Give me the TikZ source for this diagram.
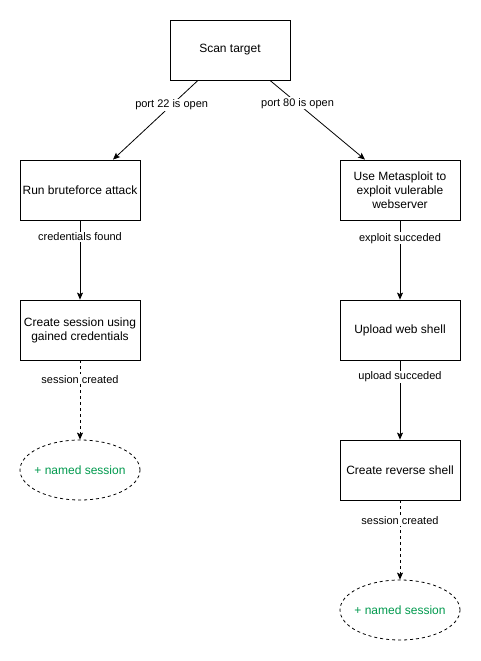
\documentclass[tikz,border=0pt]{standalone}
\usepackage{fontspec}
\setmainfont{Liberation Sans}
\usetikzlibrary{arrows.meta,calc,shapes.geometric}
\definecolor{sessgreen}{RGB}{0,153,77}
\begin{document}
\begin{tikzpicture}[x=1pt,y=-1pt,
  box/.style={draw,line width=0.8pt,minimum width=120pt,minimum height=60pt,align=center,font=\fontsize{12}{14}\selectfont,inner sep=0pt},
  sess/.style={draw,ellipse,dash pattern=on 3pt off 3pt,line width=0.8pt,minimum width=120pt,minimum height=60pt,inner sep=0pt,text=sessgreen,font=\fontsize{12}{14}\selectfont},
  conn/.style={line width=0.8pt,-{Stealth[length=7pt,width=6pt,inset=1.5pt]}},
  dconn/.style={conn,dash pattern=on 3pt off 3pt},
  lbl/.style={fill=white,inner sep=1pt,font=\fontsize{11}{13}\selectfont}]
\useasboundingbox (0,0) rectangle (481,661);
\node[box] (scan) at (230,50) {Scan target};
\node[box] (bf) at (80,190) {Run bruteforce attack};
\node[box] (msf) at (400,190) {Use Metasploit to\\exploit vulerable\\webserver};
\node[box] (cs) at (80,330) {Create session using\\gained credentials};
\node[box] (up) at (400,330) {Upload web shell};
\node[sess] (s1) at (80,470) {\makebox[0pt]{+ named session}};
\node[box] (rs) at (400,470) {Create reverse shell};
\node[sess] (s2) at (400,610) {\makebox[0pt]{+ named session}};
\draw[conn] ($(scan.south)+(-32,0)$) -- node[lbl,pos=0.31] {port 22 is open} ($(bf.north)+(33,0)$);
\draw[conn] ($(scan.south)+(40,0)$) -- node[lbl,pos=0.29] {port 80 is open} ($(msf.north)+(-35,0)$);
\draw[conn] (bf) -- node[lbl,pos=0.21] {credentials found} (cs);
\draw[conn] (msf) -- node[lbl,pos=0.225] {exploit succeded} (up);
\draw[dconn] (cs) -- node[lbl,pos=0.24] {session created} (s1);
\draw[conn] (up) -- node[lbl,pos=0.21] {upload succeded} (rs);
\draw[dconn] (rs) -- node[lbl,pos=0.26] {session created} (s2);
\end{tikzpicture}
\end{document}
